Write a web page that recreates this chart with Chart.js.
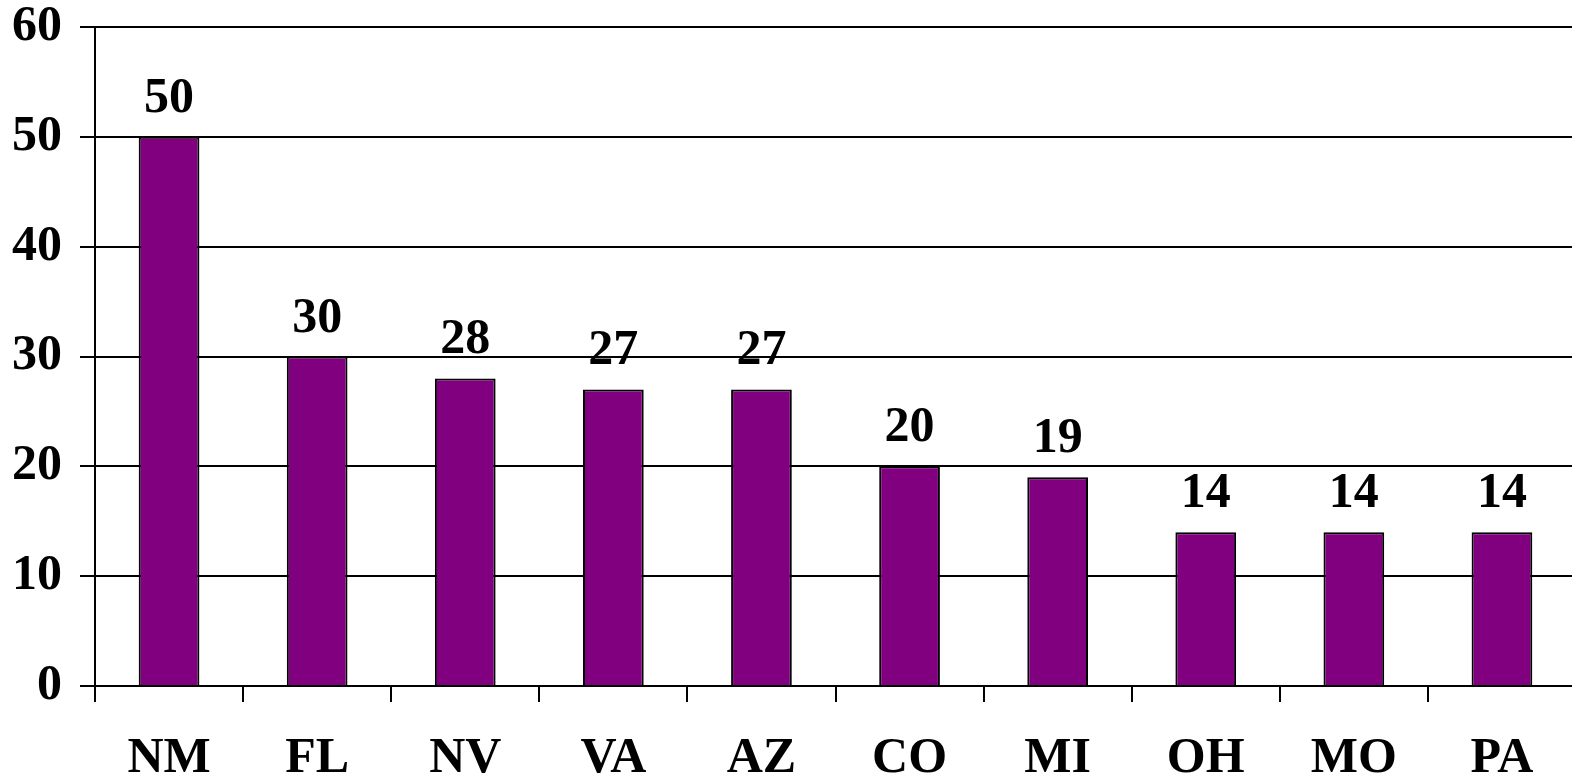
<!DOCTYPE html>
<html>
<head>
<meta charset="utf-8">
<script src="https://cdn.jsdelivr.net/npm/chart.js@4/dist/chart.umd.min.js"></script>
<style>
  html, body { margin: 0; padding: 0; background: #fff; overflow: hidden; }
  #wrap { width: 1572px; height: 775px; overflow: hidden; position: relative; }
  #box { position: absolute; left: 0; top: -21px; width: 1576px; height: 811px; }
</style>
</head>
<body>
<div id="wrap"><div id="box"><canvas id="stateChart"></canvas></div></div>
<script>
// Datos del gráfico
const states = ['NM', 'FL', 'NV', 'VA', 'AZ', 'CO', 'MI', 'OH', 'MO', 'PA'];
const counts = [50, 30, 28, 27, 27, 20, 19, 14, 14, 14];
const yTicks = [0, 10, 20, 30, 40, 50, 60];

const FONT = 'Liberation Serif, Times New Roman, serif';
const FONT_SIZE = 50;

// Etiquetas de valor encima de cada barra
const valueLabels = {
    id: 'valueLabels',
    afterDatasetsDraw(chart) {
        const ctx = chart.ctx;
        const meta = chart.getDatasetMeta(0);
        ctx.save();
        ctx.font = 'bold ' + FONT_SIZE + 'px ' + FONT;
        ctx.fillStyle = '#000';
        ctx.textAlign = 'center';
        ctx.textBaseline = 'alphabetic';
        meta.data.forEach(function(bar, i) {
            ctx.fillText(String(counts[i]), bar.x, bar.y - 25);
        });
        ctx.restore();
    }
};

const chart = new Chart(document.getElementById('stateChart').getContext('2d'), {
    type: 'bar',
    data: {
        labels: states,
        datasets: [{
            data: counts,
            backgroundColor: '#800080',
            borderColor: '#000',
            borderWidth: 2,
            categoryPercentage: 1,
            barPercentage: 0.41
        }]
    },
    options: {
        responsive: true,
        maintainAspectRatio: false,
        animation: false,
        layout: {
            autoPadding: false,
            padding: { left: 10, top: 5, right: 0, bottom: 0 }
        },
        plugins: {
            legend: { display: false },
            tooltip: { enabled: false }
        },
        scales: {
            x: {
                offset: true,
                afterFit: function(axis) { axis.height = 104; },
                grid: {
                    offset: true,
                    drawOnChartArea: false,
                    drawTicks: true,
                    tickLength: 16,
                    color: '#000',
                    lineWidth: 2
                },
                border: { color: '#000', width: 2 },
                ticks: {
                    color: '#000',
                    padding: 27,
                    font: { family: FONT, size: FONT_SIZE, weight: 'bold' }
                }
            },
            y: {
                min: 0,
                max: 60,
                afterFit: function(axis) { axis.width = 85; },
                afterBuildTicks: function(axis) {
                    axis.ticks = yTicks.map(function(v) { return { value: v }; });
                },
                grid: {
                    color: '#000',
                    lineWidth: 2,
                    tickLength: 15
                },
                border: { color: '#000', width: 2 },
                ticks: {
                    color: '#000',
                    padding: 18,
                    font: { family: FONT, size: FONT_SIZE, weight: 'bold' }
                }
            }
        }
    },
    plugins: [valueLabels]
});
</script>
</body>
</html>
